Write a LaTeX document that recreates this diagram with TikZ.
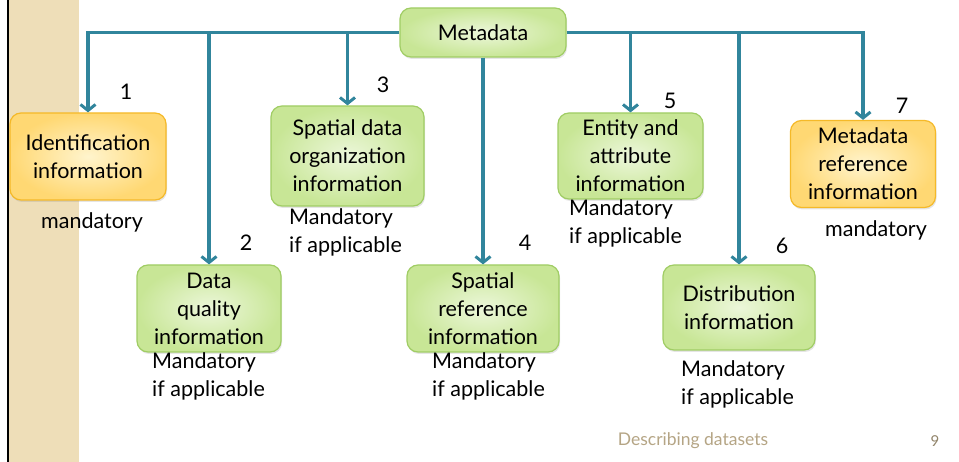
\documentclass[tikz,border=0pt]{standalone}
\usepackage{fontspec}
\setmainfont{Lato}
\usetikzlibrary{arrows.meta,shadows}
\definecolor{conncol}{RGB}{49,133,156}
\definecolor{grnA}{RGB}{236,247,218}
\definecolor{grnB}{RGB}{200,230,150}
\definecolor{grnD}{RGB}{160,205,100}
\definecolor{ylwA}{RGB}{255,244,205}
\definecolor{ylwB}{RGB}{255,216,115}
\definecolor{ylwD}{RGB}{245,185,40}
\definecolor{band}{RGB}{238,222,184}
\definecolor{foot}{RGB}{181,165,133}
\tikzset{
  gbox/.style={draw=grnD, line width=1.2pt, rounded corners=11pt, inner color=grnA, outer color=grnB,
     align=center, font=\fontsize{21.5}{28}\selectfont, inner sep=0pt,
     drop shadow={shadow xshift=1pt,shadow yshift=-2pt,opacity=0.2}},
  ybox/.style={gbox, draw=ylwD, inner color=ylwA, outer color=ylwB},
  conn/.style={draw=conncol, line width=3.2pt, -{Straight Barb[length=6pt,width=15pt,line width=3pt]}},
  lbl/.style={font=\fontsize{21.5}{28}\selectfont, inner sep=0pt},
  note/.style={lbl, align=left, anchor=north west},
}
\begin{document}
\begin{tikzpicture}[x=1pt,y=-1pt]
\useasboundingbox (0,0) rectangle (959,462);
\fill[white] (0,0) rectangle (959,462);
\fill[band] (9,0) rectangle (79,462);
\draw[black, line width=2.5pt] (8,0) -- (8,462);

\node[gbox, minimum width=166pt, minimum height=49pt] (meta) at (483,32.5) {Metadata};
\node[ybox, minimum width=156pt, minimum height=87pt] (n1) at (88,156.5) {Identification\\information};
\node[gbox, minimum width=144pt, minimum height=87pt] (n2) at (209,308.5) {Data\\quality\\information};
\node[gbox, minimum width=153pt, minimum height=100pt] (n3) at (347.5,156) {Spatial data\\organization\\information};
\node[gbox, minimum width=152pt, minimum height=87pt] (n4) at (483,308.5) {Spatial\\reference\\information};
\node[gbox, minimum width=145pt, minimum height=86pt] (n5) at (630.5,156) {Entity and\\attribute\\information};
\node[gbox, minimum width=152pt, minimum height=85pt] (n6) at (739,307.5) {Distribution\\information};
\node[ybox, minimum width=145pt, minimum height=87pt] (n7) at (863,164) {Metadata\\reference\\information};

\draw[conn] (meta.west) -| (n1.north);
\draw[conn] (meta.east) -| (n7.north);
\draw[conn] (meta.west -| n2.north) -- (n2.north);
\draw[conn] (meta.west -| n3.north) -- (n3.north);
\draw[conn] (meta.south) -- (n4.north);
\draw[conn] (meta.east -| n5.north) -- (n5.north);
\draw[conn] (meta.east -| n6.north) -- (n6.north);

\node[lbl] (k1) at (126,92) {1};
\node[lbl] (k2) at (246,243) {2};
\node[lbl] (k3) at (383,85) {3};
\node[lbl] (k4) at (525,243) {4};
\node[lbl] (k5) at (670,101) {5};
\node[lbl] (k6) at (782,246) {6};
\node[lbl] (k7) at (902,106) {7};

\node[lbl] (m1) at (92,222) {mandatory};
\node[lbl] (m7) at (876,230) {mandatory};
\node[note] (a3) at (289,208) {Mandatory\\if applicable};
\node[note] (a2) at (152,352) {Mandatory\\if applicable};
\node[note] (a4) at (432,352) {Mandatory\\if applicable};
\node[note] (a5) at (569,199) {Mandatory\\if applicable};
\node[note] (a6) at (681,360) {Mandatory\\if applicable};

\node[font=\fontsize{17.5}{20}\selectfont, text=foot, inner sep=0pt] (ft) at (693,441) {Describing datasets};
\node[font=\fontsize{15}{18}\selectfont, text=foot!80!black, inner sep=0pt] (pg) at (935,441) {9};
\end{tikzpicture}
\end{document}
